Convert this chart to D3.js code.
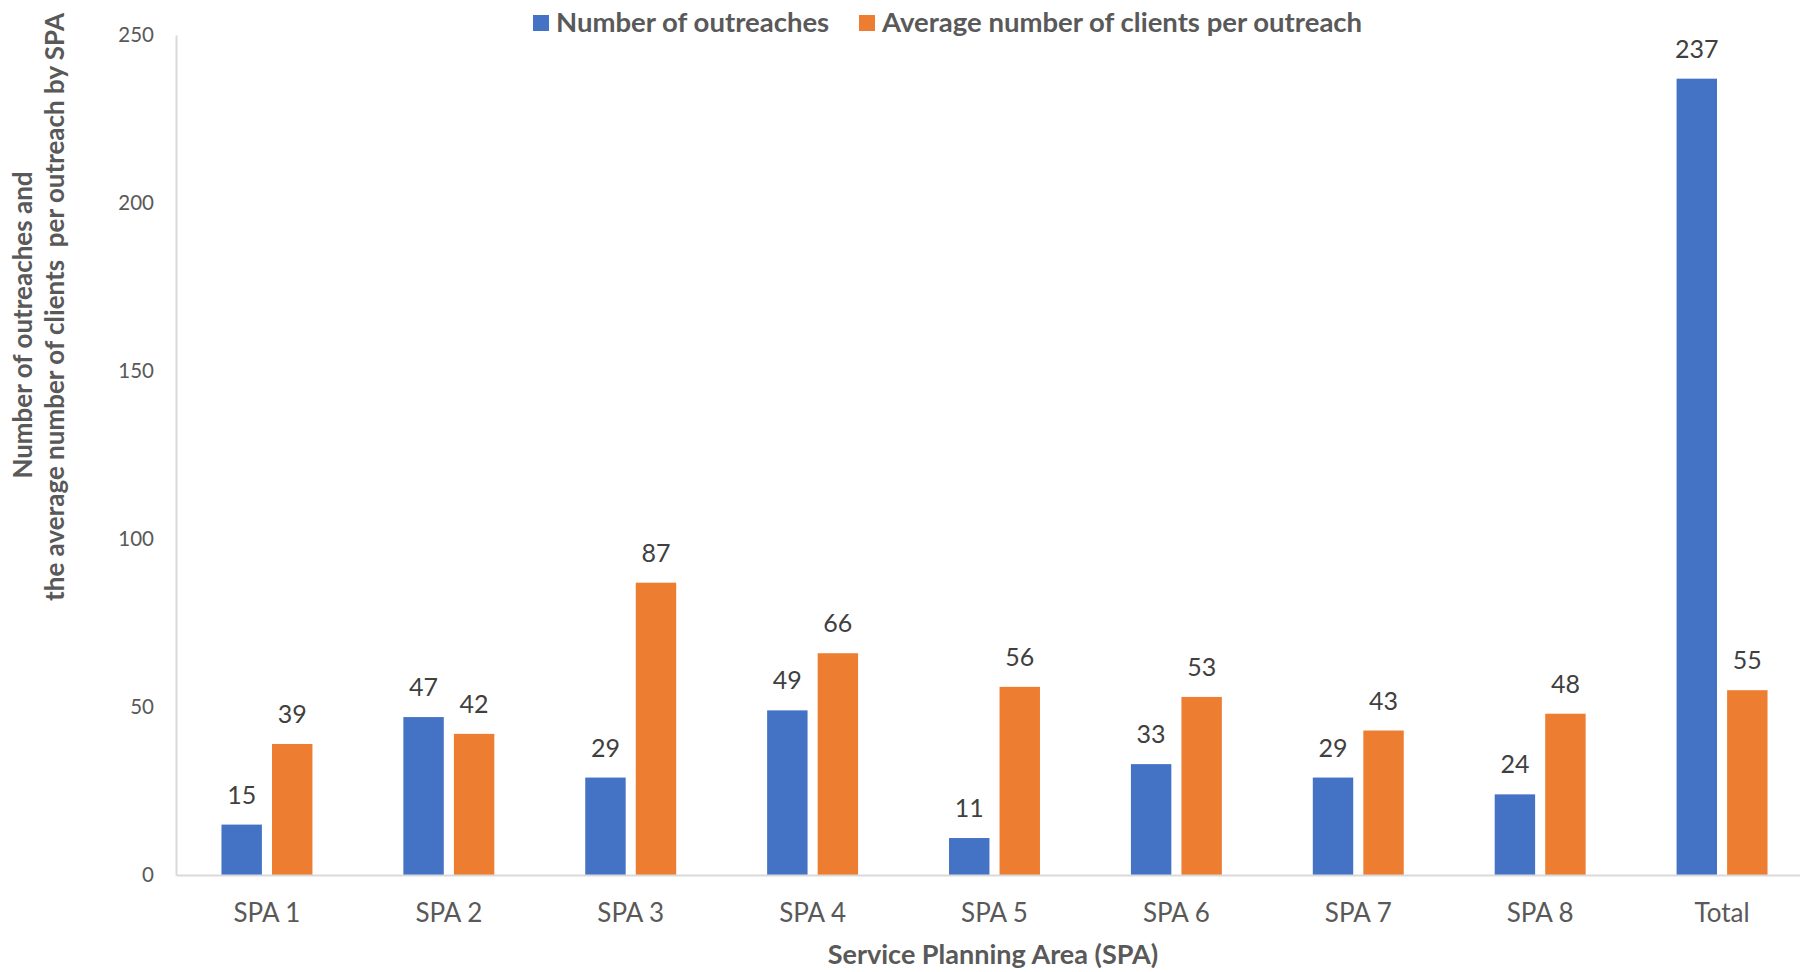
<!DOCTYPE html>
<html><head><meta charset="utf-8">
<script src="https://cdn.jsdelivr.net/npm/d3@7"></script>
<style>
html,body{margin:0;padding:0;background:#fff;}
svg{display:block;font-family:Lato,"Open Sans",sans-serif;}
</style></head>
<body>
<svg id="chart" width="1800" height="972"></svg>
<script>
const categories = ["SPA 1","SPA 2","SPA 3","SPA 4","SPA 5","SPA 6","SPA 7","SPA 8","Total"];
const seriesNames = ["Number of outreaches","Average number of clients per outreach"];
const outreaches = [15,47,29,49,11,33,29,24,237];
const avgClients = [39,42,87,66,56,53,43,48,55];
const yTicks = [0,50,100,150,200,250];
const colors = ["#4472C4","#ED7D31"];

const svg = d3.select("#chart");
const x0 = d3.scaleBand().domain(categories).range([176, 1813]).paddingInner(0.5).paddingOuter(0.25);
const x1 = d3.scaleBand().domain([0,1]).range([0, x0.bandwidth()]).paddingInner(0.2);
const y = d3.scaleLinear().domain([0,250]).range([875, 35]);

// y axis
const yAxis = svg.append("g").attr("transform","translate(176,0)")
  .call(d3.axisLeft(y).tickValues(yTicks).tickSize(0).tickPadding(22));
yAxis.select(".domain").attr("stroke","#D9D9D9").attr("stroke-width",2);
yAxis.selectAll("text").attr("fill","#595959").attr("font-size",20.5).attr("font-family","Lato,sans-serif");

// bars
const data = categories.map((c,i)=>({cat:c, vals:[outreaches[i], avgClients[i]]}));
const g = svg.append("g");
const groups = g.selectAll("g.grp").data(data).join("g").attr("class","grp")
  .attr("transform",d=>`translate(${x0(d.cat)},0)`);
groups.selectAll("rect").data(d=>d.vals.map((v,k)=>({v,k}))).join("rect")
  .attr("x",d=>x1(d.k)).attr("width",x1.bandwidth())
  .attr("y",d=>y(d.v)).attr("height",d=>y(0)-y(d.v))
  .attr("fill",d=>colors[d.k]);
groups.selectAll("text").data(d=>d.vals.map((v,k)=>({v,k}))).join("text")
  .attr("x",d=>x1(d.k)+x1.bandwidth()/2).attr("y",d=>y(d.v)-21)
  .attr("text-anchor","middle").attr("fill","#404040").attr("font-size",25)
  .text(d=>d.v);

// x axis
const xAxis = svg.append("g").attr("transform","translate(0,875)")
  .call(d3.axisBottom(x0).tickSize(0).tickPadding(29).tickSizeOuter(0));
xAxis.select(".domain").attr("stroke","#D9D9D9").attr("stroke-width",2);
xAxis.selectAll("text").attr("fill","#595959").attr("font-size",26).attr("font-family","Lato,sans-serif");

// axis titles
svg.append("text").attr("x",993).attr("y",964).attr("text-anchor","middle")
  .attr("font-weight","bold").attr("font-size",27).attr("fill","#595959")
  .text("Service Planning Area (SPA)");
svg.append("text").attr("transform","translate(32,325) rotate(-90)").attr("text-anchor","middle")
  .attr("font-weight","bold").attr("font-size",26).attr("fill","#595959")
  .text("Number of outreaches and");
svg.append("text").attr("transform","translate(64,307) rotate(-90)").attr("text-anchor","middle")
  .attr("font-weight","bold").attr("font-size",26).attr("fill","#595959")
  .style("white-space","pre")
  .text("the average number of clients  per outreach by SPA");

// legend
const legendX = [533, 859];
const leg = svg.append("g");
seriesNames.forEach((n,i)=>{
  leg.append("rect").attr("x",legendX[i]).attr("y",15).attr("width",16).attr("height",16).attr("fill",colors[i]);
  leg.append("text").attr("x",legendX[i]+23).attr("y",32).attr("font-weight","bold")
    .attr("font-size",27.5).attr("fill","#595959").text(n);
});
</script>
</body></html>
